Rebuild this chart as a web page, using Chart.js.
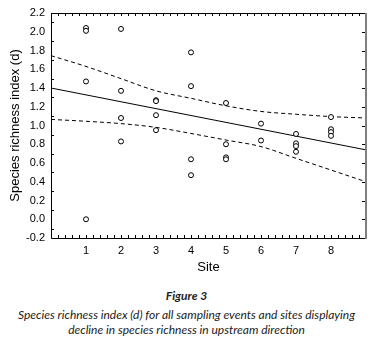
<!DOCTYPE html>
<html>
<head>
<meta charset="utf-8">
<script src="https://cdn.jsdelivr.net/npm/chart.js@4"></script>
<style>
  body { margin: 0; background: #fff; width: 373px; height: 346px; position: relative; overflow: hidden; }
  #wrap { position: absolute; left: 0; top: 0; width: 373px; height: 280px; }
  .cap { position: absolute; left: 0; width: 373px; text-align: center; font-family: Lato, "Noto Sans", sans-serif; font-style: italic; color: #222; white-space: nowrap; }
  #figno { top: 288px; font-weight: bold; font-size: 12px; }
  #line1 { top: 307px; font-size: 12px; }
  #line2 { top: 322px; font-size: 12px; }
</style>
</head>
<body>
<div id="wrap"><canvas id="richnessChart" width="373" height="280"></canvas></div>
<div class="cap" id="figno">Figure 3</div>
<div class="cap" id="line1">Species richness index (d) for all sampling events and sites displaying</div>
<div class="cap" id="line2">decline in species richness in upstream direction</div>
<script>
// observations: site number and richness index (d)
const sites = [1, 1, 1, 1, 2, 2, 2, 2, 3, 3, 3, 3, 4, 4, 4, 4, 5, 5, 5, 5, 6, 6, 7, 7, 7, 7, 8, 8, 8, 8];
const richness = [2.04, 2.01, 1.47, 0.00, 2.03, 1.37, 1.08, 0.83, 1.27, 1.26, 1.11, 0.95,
  1.78, 1.42, 0.64, 0.47, 1.24, 0.80, 0.66, 0.64, 1.02, 0.84, 0.91, 0.81, 0.78, 0.72,
  1.09, 0.96, 0.93, 0.89];

// fitted line and 95% band
const fitX = [0, 9];
const fitY = [1.40, 0.74];
const bandX = [0, 1, 2, 3, 4, 5, 6, 7, 8, 9];
const upperBand = [1.745, 1.63, 1.50, 1.37, 1.29, 1.21, 1.15, 1.12, 1.095, 1.08];
const lowerBand = [1.065, 1.045, 1.02, 0.98, 0.915, 0.845, 0.775, 0.65, 0.525, 0.40];

const xTicks = [1, 2, 3, 4, 5, 6, 7, 8];
const yTicks = [-0.2, 0.0, 0.2, 0.4, 0.6, 0.8, 1.0, 1.2, 1.4, 1.6, 1.8, 2.0, 2.2];

const toPoints = (xs, ys) => xs.map((x, i) => ({ x: x, y: ys[i] }));

// box around the plot with small inward ticks
const frameTicks = {
  id: 'frameTicks',
  afterDatasetsDraw(chart) {
    const ctx = chart.ctx;
    const { left, right, top, bottom } = chart.chartArea;
    const xs = chart.scales.x, ys = chart.scales.y;
    ctx.save();
    ctx.lineWidth = 1;
    ctx.strokeStyle = '#000';
    ctx.beginPath();
    // x ticks every 0.2, bottom and top
    for (let v = 0.2; v < 9; v += 0.2) {
      const px = Math.round(xs.getPixelForValue(v)) + 0.5;
      ctx.moveTo(px, bottom); ctx.lineTo(px, bottom - 3);
      ctx.moveTo(px, top); ctx.lineTo(px, top + 3);
    }
    // left ticks on the odd tenths
    for (let v = -0.1; v < 2.2; v += 0.2) {
      const py = Math.round(ys.getPixelForValue(v)) + 0.5;
      ctx.moveTo(left, py); ctx.lineTo(left + 3, py);
    }
    ctx.stroke();
    // frame
    ctx.beginPath();
    ctx.moveTo(left + 0.5, top); ctx.lineTo(left + 0.5, bottom + 0.5);
    ctx.lineTo(right, bottom + 0.5);
    ctx.moveTo(left, top + 0.5); ctx.lineTo(right, top + 0.5);
    ctx.stroke();
    ctx.strokeStyle = '#808080';
    ctx.lineWidth = 2;
    ctx.beginPath();
    ctx.moveTo(right, top); ctx.lineTo(right, bottom + 1);
    ctx.stroke();
    ctx.lineWidth = 1;
    ctx.strokeStyle = '#000';
    ctx.beginPath();
    yTicks.forEach(v => {
      const py = Math.round(ys.getPixelForValue(v)) + 0.5;
      ctx.moveTo(right - 1, py); ctx.lineTo(right - 4, py);
    });
    ctx.stroke();
    ctx.restore();
  }
};

new Chart(document.getElementById('richnessChart'), {
  type: 'scatter',
  data: {
    datasets: [
      {
        data: toPoints(sites, richness),
        pointRadius: 2.5,
        pointHoverRadius: 2.5,
        pointBackgroundColor: '#fff',
        pointBorderColor: '#000',
        pointBorderWidth: 1,
        showLine: false
      },
      {
        type: 'line',
        data: toPoints(fitX, fitY),
        borderColor: '#000',
        borderWidth: 1,
        pointRadius: 0,
        fill: false
      },
      {
        type: 'line',
        data: toPoints(bandX, upperBand),
        borderColor: '#000',
        borderWidth: 1,
        borderDash: [4, 3],
        cubicInterpolationMode: 'monotone',
        pointRadius: 0,
        fill: false
      },
      {
        type: 'line',
        data: toPoints(bandX, lowerBand),
        borderColor: '#000',
        borderWidth: 1,
        borderDash: [4, 3],
        cubicInterpolationMode: 'monotone',
        pointRadius: 0,
        fill: false
      }
    ]
  },
  options: {
    responsive: false,
    animation: false,
    events: [],
    layout: { padding: { top: 13, right: 7, left: 0, bottom: 0 } },
    plugins: { legend: { display: false }, tooltip: { enabled: false } },
    scales: {
      x: {
        type: 'linear',
        min: 0,
        max: 9,
        afterBuildTicks: s => { s.ticks = xTicks.map(v => ({ value: v })); },
        afterFit: s => { s.height = 42; },
        grid: { display: false, drawTicks: false },
        border: { display: false },
        ticks: { padding: 6, color: '#000', font: { family: 'Liberation Sans, Arial, sans-serif', size: 11 } },
        title: {
          display: true,
          text: 'Site',
          color: '#000',
          padding: { top: 0, bottom: 5 },
          font: { family: 'Liberation Sans, Arial, sans-serif', size: 13 }
        }
      },
      y: {
        type: 'linear',
        min: -0.2,
        max: 2.2,
        afterBuildTicks: s => { s.ticks = yTicks.map(v => ({ value: v })); },
        afterFit: s => { s.width = 51; },
        grid: { display: false, drawTicks: false },
        border: { display: false },
        ticks: {
          padding: 6,
          color: '#000',
          font: { family: 'Liberation Sans, Arial, sans-serif', size: 11 },
          callback: v => v.toFixed(1)
        },
        title: {
          display: true,
          text: 'Species richness index (d)',
          color: '#000',
          padding: { top: 8, bottom: 0 },
          font: { family: 'Liberation Sans, Arial, sans-serif', size: 13 }
        }
      }
    }
  },
  plugins: [frameTicks]
});
</script>
</body>
</html>
